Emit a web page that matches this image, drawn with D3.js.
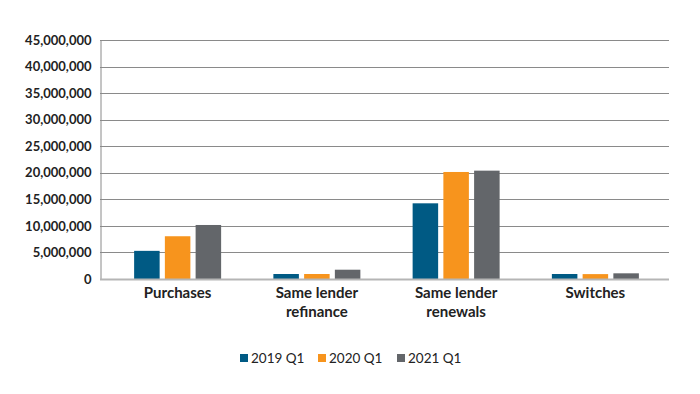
<!DOCTYPE html>
<html><head><meta charset="utf-8">
<script src="https://cdn.jsdelivr.net/npm/d3@7"></script>
<style>body{margin:0;background:#fff;} svg{display:block;}</style>
</head><body>
<svg id="c" width="700" height="394"></svg>
<script>
const categories = [["Purchases"], ["Same lender", "refinance"], ["Same lender", "renewals"], ["Switches"]];
const seriesNames = ["2019 Q1", "2020 Q1", "2021 Q1"];
const seriesColors = ["#005A84", "#F7941D", "#63666A"];
const values2019 = [5300000, 940000, 14250000, 940000];
const values2020 = [8050000, 940000, 20150000, 920000];
const values2021 = [10170000, 1750000, 20400000, 1070000];
const yTicks = [0, 5000000, 10000000, 15000000, 20000000, 25000000, 30000000, 35000000, 40000000, 45000000];

const series = [values2019, values2020, values2021];
const svg = d3.select("#c");
const y = d3.scaleLinear().domain([0, 45000000]).range([279, 40]);
const x = d3.scaleBand().domain(d3.range(categories.length)).range([108, 665]);
const xi = d3.scaleBand().domain(d3.range(series.length)).range([0, 87]).paddingInner(0.17);
const fmt = d3.format(",");

// gridlines
svg.append("g").selectAll("line").data(yTicks.filter(d => d > 0)).join("line")
  .attr("x1", 100).attr("x2", 669)
  .attr("y1", d => Math.round(y(d)) + 0.5).attr("y2", d => Math.round(y(d)) + 0.5)
  .attr("stroke", "#8a8a8a").attr("stroke-width", 1);

// y axis
const yAxis = d3.axisLeft(y).tickValues(yTicks).tickFormat(fmt).tickSize(0).tickPadding(9);
const ga = svg.append("g").attr("transform", "translate(100.5,0)").call(yAxis);
ga.select(".domain").attr("stroke", "#8a8a8a");
ga.selectAll("text").attr("font-family", "Lato").attr("font-weight", "bold")
  .attr("font-size", 13).attr("fill", "#222");

// bars
series.forEach((vals, si) => {
  svg.append("g").selectAll("rect").data(vals).join("rect")
    .attr("x", (d, i) => x(i) + (x.bandwidth() - 87) / 2 + xi(si))
    .attr("width", xi.bandwidth())
    .attr("y", d => y(d))
    .attr("height", d => y(0) - y(d))
    .attr("fill", seriesColors[si]);
});

// x axis baseline
svg.append("line").attr("x1", 100).attr("x2", 669).attr("y1", 279.5).attr("y2", 279.5)
  .attr("stroke", "#b5b5b5").attr("stroke-width", 2);

// category labels
const cl = svg.append("g").selectAll("text").data(categories).join("text")
  .attr("x", (d, i) => x(i) + x.bandwidth() / 2)
  .attr("y", 298).attr("text-anchor", "middle")
  .attr("font-family", "Lato").attr("font-weight", "bold").attr("font-size", 15).attr("fill", "#222");
cl.selectAll("tspan").data(d => d).join("tspan")
  .attr("x", function () { return this.parentNode.getAttribute("x"); })
  .attr("dy", (d, i) => i === 0 ? 0 : 19).text(d => d);

// legend
const legX = [240, 318, 397];
const lg = svg.append("g").selectAll("g").data(seriesNames).join("g")
  .attr("transform", (d, i) => `translate(${legX[i]},354)`);
lg.append("rect").attr("width", 8).attr("height", 8).attr("fill", (d, i) => seriesColors[i]);
lg.append("text").attr("x", 11).attr("y", 8.5).text(d => d)
  .attr("font-family", "Lato").attr("font-size", 13.5).attr("fill", "#222");
</script>
</body></html>
